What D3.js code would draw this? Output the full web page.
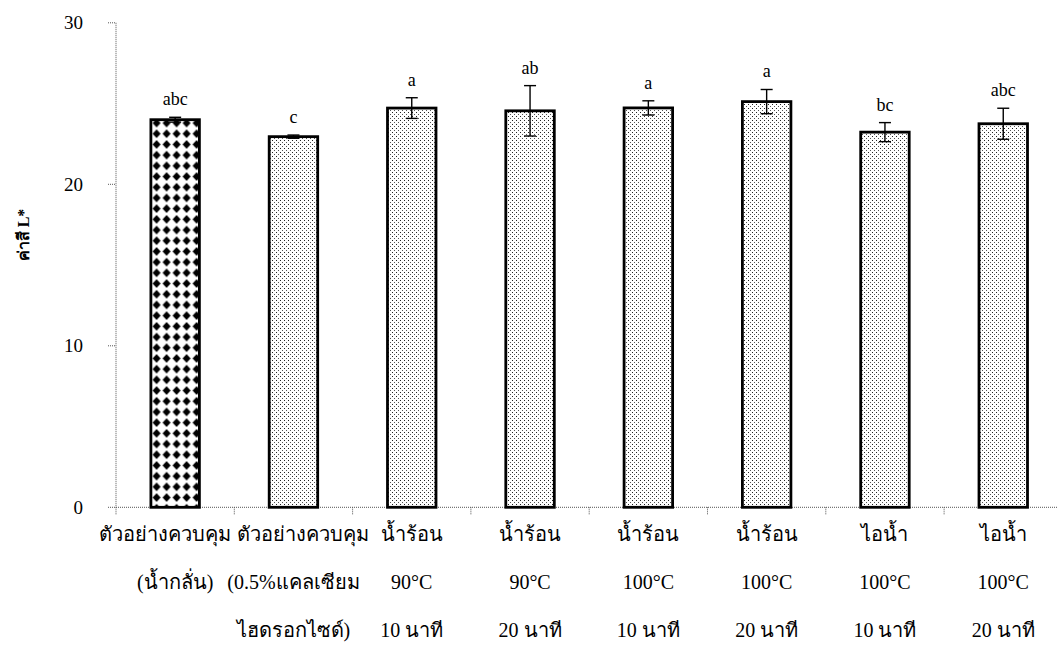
<!DOCTYPE html>
<html>
<head>
<meta charset="utf-8">
<script src="https://cdn.jsdelivr.net/npm/d3@7"></script>
<style>
  html, body { margin: 0; padding: 0; background: #fff; }
  svg { display: block; }
  text { font-family: "Liberation Serif", "DejaVu Serif", serif; fill: #000; }
</style>
</head>
<body>
<svg id="chart" width="1057" height="648"></svg>
<script>
// ---- data ----
const categories = [
  ["ตัวอย่างควบคุม", "(น้ำกลั่น)"],
  ["ตัวอย่างควบคุม", "(0.5%แคลเซียม", "ไฮดรอกไซด์)"],
  ["น้ำร้อน", "90°C", "10 นาที"],
  ["น้ำร้อน", "90°C", "20 นาที"],
  ["น้ำร้อน", "100°C", "10 นาที"],
  ["น้ำร้อน", "100°C", "20 นาที"],
  ["ไอน้ำ", "100°C", "10 นาที"],
  ["ไอน้ำ", "100°C", "20 นาที"]
];
const values = [24.0, 22.95, 24.72, 24.55, 24.73, 25.12, 23.23, 23.75];
const errors = [0.15, 0.1, 0.64, 1.56, 0.44, 0.75, 0.59, 0.96];
const letters = ["abc", "c", "a", "ab", "a", "a", "bc", "abc"];
const patterns = ["diamond", "dots", "dots", "dots", "dots", "dots", "dots", "dots"];
const yTicks = [0, 10, 20, 30];
const yTitle = "ค่าสี L*";

// ---- layout ----
const svg = d3.select("#chart");
const x0 = 116, y0 = 507.3;
const x = d3.scaleBand().domain(d3.range(categories.length)).range([x0, 1062.4]).padding(0);
const y = d3.scaleLinear().domain([0, 30]).range([y0, 22.8]);
const barW = x.bandwidth() * 0.41;

// patterns
const defs = svg.append("defs");
const pd = defs.append("pattern").attr("id", "dots").attr("patternUnits", "userSpaceOnUse")
  .attr("width", 4).attr("height", 4);
pd.append("rect").attr("width", 4).attr("height", 4).attr("fill", "#fff");
pd.append("rect").attr("x", 0).attr("y", 0).attr("width", 1).attr("height", 1).attr("fill", "#222");
pd.append("rect").attr("x", 2).attr("y", 2).attr("width", 1).attr("height", 1).attr("fill", "#555");

const pm = defs.append("pattern").attr("id", "diamond").attr("patternUnits", "userSpaceOnUse")
  .attr("width", 10).attr("height", 10.7).attr("x", x(0) + x.bandwidth()/2 - barW/2 + 0.7).attr("y", 0);
pm.append("rect").attr("width", 10).attr("height", 10.7).attr("fill", "#fff");
pm.append("path").attr("d", "M5,1.0 L9.0,5.35 L5,9.7 L1.0,5.35 Z").attr("fill", "#000");

// axes (dotted)
const axisStyle = g => g.attr("stroke", "#555").attr("stroke-width", 1).attr("stroke-dasharray", "1,1");
svg.append("line").attr("x1", x0).attr("x2", x0).attr("y1", y(30)).attr("y2", y0).call(axisStyle);
svg.append("line").attr("x1", x0).attr("x2", 1057).attr("y1", y0).attr("y2", y0).call(axisStyle);

// y ticks
const yt = svg.append("g");
yt.selectAll("line").data(yTicks).join("line")
  .attr("x1", x0 - 8).attr("x2", x0).attr("y1", d => y(d)).attr("y2", d => y(d)).call(axisStyle);
yt.selectAll("text").data(yTicks).join("text")
  .attr("x", 83).attr("y", d => y(d)).attr("dy", "0.35em")
  .attr("text-anchor", "end").attr("font-size", 19).text(d => d);

// x ticks at band boundaries
const xt = svg.append("g");
xt.selectAll("line").data(d3.range(categories.length)).join("line")
  .attr("x1", d => x(d)).attr("x2", d => x(d)).attr("y1", y0).attr("y2", y0 + 8).call(axisStyle);

// y title
svg.append("text").attr("transform", "translate(29,235) rotate(-90)")
  .attr("text-anchor", "middle").attr("font-size", 16).attr("font-weight", "bold").text(yTitle);

// bars
const cx = i => x(i) + x.bandwidth() / 2;
svg.append("g").selectAll("rect").data(values).join("rect")
  .attr("x", (d, i) => cx(i) - barW / 2).attr("width", barW)
  .attr("y", d => y(d)).attr("height", d => y0 - y(d))
  .attr("fill", (d, i) => `url(#${patterns[i]})`)
  .attr("stroke", "#000").attr("stroke-width", 2.8);

// error bars
const eb = svg.append("g").attr("stroke", "#000").attr("stroke-width", 1.4);
values.forEach((v, i) => {
  const hi = y(v + errors[i]), lo = y(v - errors[i]);
  eb.append("line").attr("x1", cx(i)).attr("x2", cx(i)).attr("y1", hi).attr("y2", lo);
  eb.append("line").attr("x1", cx(i) - 6).attr("x2", cx(i) + 6).attr("y1", hi).attr("y2", hi);
  eb.append("line").attr("x1", cx(i) - 6).attr("x2", cx(i) + 6).attr("y1", lo).attr("y2", lo);
});

// significance letters
svg.append("g").selectAll("text").data(letters).join("text")
  .attr("x", (d, i) => cx(i)).attr("y", (d, i) => y(values[i] + errors[i]) - 12)
  .attr("text-anchor", "middle").attr("font-size", 18).text(d => d);

// category labels: centred; if two neighbours on a line collide, push them apart evenly
const lineY = [541, 589, 637];
const lg = svg.append("g");
const prev = [null, null, null];
categories.forEach((lines, i) => {
  lines.forEach((s, j) => {
    const t = lg.append("text").attr("x", cx(i)).attr("y", lineY[j])
      .attr("text-anchor", "middle").attr("font-size", 20).text(s);
    const bb = t.node().getBBox();
    if (prev[j]) {
      const pb = prev[j].node().getBBox();
      const overlap = pb.x + pb.width + 6 - bb.x;
      if (overlap > 0) {
        prev[j].attr("x", +prev[j].attr("x") - overlap / 2);
        t.attr("x", cx(i) + overlap / 2);
      }
    }
    prev[j] = t;
  });
});
</script>
</body>
</html>
